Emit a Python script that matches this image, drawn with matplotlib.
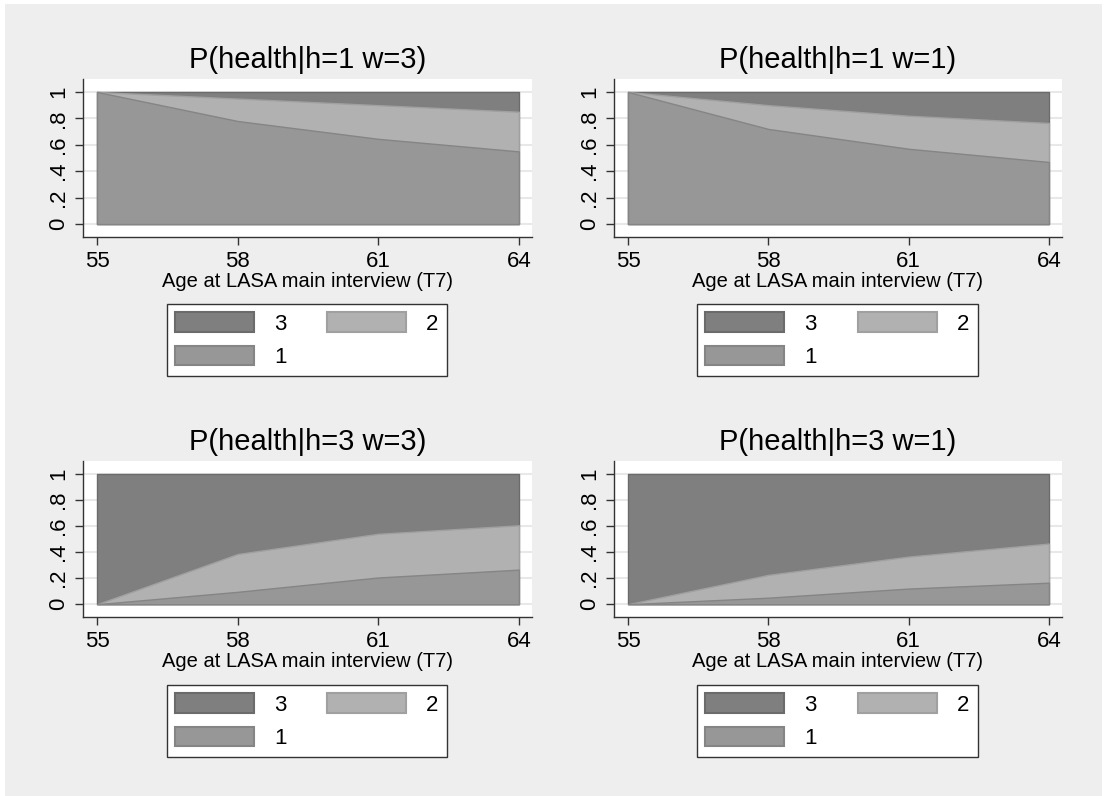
import matplotlib.pyplot as plt
from matplotlib.patches import Patch, Rectangle

plt.rcParams['font.family'] = ['Liberation Sans', 'DejaVu Sans']

ages = [55, 58, 61, 64]
y_ticks = [0, 0.2, 0.4, 0.6, 0.8, 1.0]
y_tick_labels = ['0', '.2', '.4', '.6', '.8', '1']

titles = ['P(health|h=1 w=3)', 'P(health|h=1 w=1)',
          'P(health|h=3 w=3)', 'P(health|h=3 w=1)']

# upper edge of the health=1 band and of the health=1+2 band (stacked)
top_h1 = [[1.0, 0.78, 0.645, 0.55],
          [1.0, 0.72, 0.57, 0.47],
          [0.0, 0.095, 0.205, 0.265],
          [0.0, 0.05, 0.12, 0.165]]
top_h12 = [[1.0, 0.95, 0.90, 0.85],
           [1.0, 0.90, 0.82, 0.765],
           [0.0, 0.385, 0.54, 0.605],
           [0.0, 0.225, 0.365, 0.465]]
top_all = [1.0, 1.0, 1.0, 1.0]

col3, edge3 = '#7f7f7f', '#6b6b6b'
col2, edge2 = '#b1b1b1', '#a0a0a0'
col1, edge1 = '#979797', '#858585'
bg = '#eeeeee'

W, H = 1106, 796
fig = plt.figure(figsize=(W / 100, H / 100), dpi=100, facecolor='white')
fig.patches.append(Rectangle((5 / W, 0), 1097 / W, 792 / H,
                             transform=fig.transFigure, facecolor=bg,
                             edgecolor='none', zorder=-10))

# panel boxes in pixels: left, top, right, bottom
boxes = [(83, 79, 532, 237), (614, 79, 1062, 237),
         (83, 461, 532, 617), (614, 461, 1062, 617)]
legend_boxes = [(167, 304, 447), (697, 304, 978),
                (167, 685, 447), (697, 685, 978)]

for i in range(4):
    l, t, r, b = boxes[i]
    ax = fig.add_axes([l / W, 1 - b / H, (r - l) / W, (b - t) / H])
    ax.set_facecolor('white')

    ax.fill_between(ages, 0, top_all, facecolor=col3, edgecolor=edge3, lw=1, zorder=2)
    ax.fill_between(ages, 0, top_h12[i], facecolor=col2, edgecolor=edge2, lw=1, zorder=3)
    ax.fill_between(ages, 0, top_h1[i], facecolor=col1, edgecolor=edge1, lw=1, zorder=4)

    ax.set_xlim(54.70, 64.28)
    ax.set_ylim(-0.098, 1.098)
    ax.set_xticks(ages)
    ax.set_yticks(y_ticks)
    ax.set_yticklabels(y_tick_labels, rotation=90, va='center')
    ax.grid(axis='y', color='#e8e8e8', lw=1.5, zorder=0)
    ax.set_axisbelow(True)

    for s in ['top', 'right']:
        ax.spines[s].set_visible(False)
    for s in ['left', 'bottom']:
        ax.spines[s].set_color('#333333')
        ax.spines[s].set_linewidth(1)
    ax.tick_params(direction='out', length=6, width=1, color='#333333',
                   labelsize=16, pad=4)
    ax.set_title(titles[i], fontsize=21, pad=8)
    ax.set_xlabel('Age at LASA main interview (T7)', fontsize=14.5, labelpad=0)

    handles = [Patch(facecolor=col3, edgecolor=edge3, lw=1.5, label='3'),
               Patch(facecolor=col1, edgecolor=edge1, lw=1.5, label='1'),
               Patch(facecolor=col2, edgecolor=edge2, lw=1.5, label='2')]
    lx, ly, rx = legend_boxes[i]
    leg = fig.legend(handles=handles, ncol=2, loc='upper left',
                     bbox_to_anchor=(lx / W, 1 - ly / H, (rx - lx) / W, 0),
                     mode='expand', fontsize=16, frameon=True, fancybox=False,
                     edgecolor='#333333', framealpha=1, borderpad=0.38,
                     handlelength=3.55, handleheight=0.95, handletextpad=0.9,
                     labelspacing=0.5, borderaxespad=0)
    leg.get_frame().set_linewidth(1)

fig.savefig('out.png', dpi=100, facecolor=fig.get_facecolor())
